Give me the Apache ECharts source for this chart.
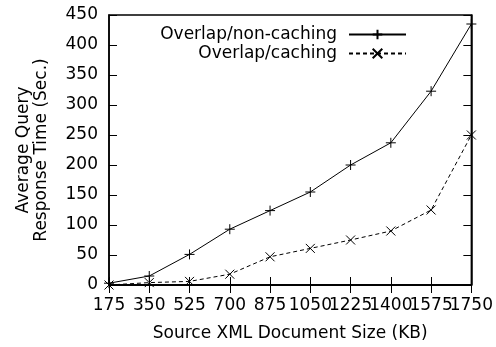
<!DOCTYPE html>
<html>
<head>
<meta charset="utf-8">
<script src="https://cdn.jsdelivr.net/npm/echarts@6/dist/echarts.min.js"></script>
<style>
  html, body { margin: 0; padding: 0; background: #fff; }
  #chart { width: 496px; height: 347px; }
</style>
</head>
<body>
<div id="chart"></div>
<script>
var sizes = ['175', '350', '525', '700', '875', '1050', '1225', '1400', '1575', '1750'];
var nonCaching = [3, 15, 51, 93, 124, 155, 200, 237, 323, 435];
var caching = [0, 4, 6, 18, 47, 61, 75, 90, 125, 250];
var yTicks = { min: 0, max: 450, interval: 50 };

var plus = 'path://M0,5L10,5M5,0L5,10';
var cross = 'path://M0,0L10,10M10,0L0,10';
var font = 'DejaVu Sans, sans-serif';
var fs = 17;

var chartDom = document.getElementById('chart');
var myChart = echarts.init(chartDom);
var option;

option = {
    animation: false,
    textStyle: { fontFamily: font, color: '#000' },
    grid: {
        left: 109, right: 24, top: 15, bottom: 61,
        show: true, borderColor: '#000', borderWidth: 1.5
    },
    legend: [
        {
            data: ['Overlap/non-caching'],
            right: 84, top: 21, align: 'right',
            itemWidth: 57, itemHeight: 12,
            textStyle: { fontSize: fs, fontFamily: font, color: '#000', padding: [0, 7, 0, 0] }
        },
        {
            data: ['Overlap/caching'],
            right: 84, top: 40, align: 'right',
            itemWidth: 57, itemHeight: 12,
            textStyle: { fontSize: fs, fontFamily: font, color: '#000', padding: [0, 7, 0, 0] }
        }
    ],
    xAxis: [
        {
            type: 'category',
            data: sizes,
            boundaryGap: false,
            name: 'Source XML Document Size (KB)',
            nameLocation: 'middle',
            nameGap: 40,
            nameTextStyle: { fontSize: fs, fontFamily: font, color: '#000' },
            axisLine: { lineStyle: { color: '#000', width: 1.5 } },
            axisTick: { inside: true, length: 8, lineStyle: { color: '#000' } },
            axisLabel: { interval: 0, fontSize: fs, fontFamily: font, color: '#000', margin: 12 },
            splitLine: { show: false }
        },
        {
            type: 'category',
            data: sizes,
            boundaryGap: false,
            position: 'top',
            axisLine: { lineStyle: { color: '#000', width: 1.5 } },
            axisTick: { inside: true, length: 8, lineStyle: { color: '#000' } },
            axisLabel: { show: false },
            splitLine: { show: false }
        }
    ],
    yAxis: [
        {
            type: 'value',
            min: yTicks.min, max: yTicks.max, interval: yTicks.interval,
            name: 'Average Query\nResponse Time (Sec.)',
            nameLocation: 'middle',
            nameGap: 58,
            nameTextStyle: { fontSize: fs, fontFamily: font, color: '#000', lineHeight: 18 },
            axisLine: { show: true, lineStyle: { color: '#000', width: 1.5 } },
            axisTick: { show: true, inside: true, length: 8, lineStyle: { color: '#000' } },
            axisLabel: { fontSize: fs, fontFamily: font, color: '#000', margin: 11 },
            splitLine: { show: false }
        },
        {
            type: 'value',
            position: 'right',
            min: yTicks.min, max: yTicks.max, interval: yTicks.interval,
            axisLine: { show: true, lineStyle: { color: '#000', width: 1.5 } },
            axisTick: { show: true, inside: true, length: 8, lineStyle: { color: '#000' } },
            axisLabel: { show: false },
            splitLine: { show: false }
        }
    ],
    series: [
        {
            name: 'Overlap/non-caching',
            type: 'line',
            data: nonCaching,
            symbol: plus,
            symbolSize: 10,
            itemStyle: { color: '#000', borderColor: '#000', borderWidth: 1 },
            lineStyle: { color: '#000', width: 1 }
        },
        {
            name: 'Overlap/caching',
            type: 'line',
            data: caching,
            symbol: cross,
            symbolSize: 9,
            itemStyle: { color: '#000', borderColor: '#000', borderWidth: 1 },
            lineStyle: { color: '#000', width: 1, type: [4, 3] }
        }
    ]
};

option && myChart.setOption(option);
</script>
</body>
</html>
